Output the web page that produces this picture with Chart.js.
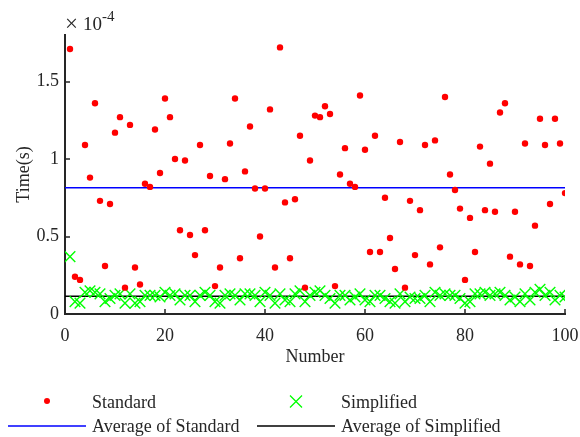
<!DOCTYPE html>
<html>
<head>
<meta charset="utf-8">
<script src="https://cdn.jsdelivr.net/npm/chart.js@4.4.1/dist/chart.umd.min.js"></script>
<style>
  html, body { margin: 0; padding: 0; background: #fff; }
  #wrap { position: relative; width: 580px; height: 437px; }
  #legend { position: absolute; left: 0; top: 0; width: 580px; height: 437px; pointer-events: none;
            font-family: "Liberation Serif", "Times New Roman", serif; font-size: 18px; color: #262626; }
  .item { position: absolute; height: 24px; line-height: 24px; white-space: nowrap; }
  .item svg { position: absolute; left: 0; top: 0; }
  .item span { position: absolute; left: 84px; top: 0; }
</style>
</head>
<body>
<div id="wrap">
  <canvas id="chart" width="580" height="437"></canvas>
  <div id="legend"></div>
</div>
<script>
const $ = id => document.getElementById(id);

// Time per run, in units of 1e-4 s (axis shows ×10^-4)
const standard = [
  1.71, 0.24, 0.22, 1.09, 0.88, 1.36, 0.73, 0.31, 0.71, 1.17,
  1.27, 0.17, 1.22, 0.30, 0.19, 0.84, 0.82, 1.19, 0.91, 1.39,
  1.27, 1.00, 0.54, 0.99, 0.51, 0.38, 1.09, 0.54, 0.89, 0.18,
  0.30, 0.87, 1.10, 1.39, 0.36, 0.92, 1.21, 0.81, 0.50, 0.81,
  1.32, 0.30, 1.72, 0.72, 0.36, 0.74, 1.15, 0.17, 0.99, 1.28,
  1.27, 1.34, 1.29, 0.18, 0.90, 1.07, 0.84, 0.82, 1.41, 1.06,
  0.40, 1.15, 0.40, 0.75, 0.49, 0.29, 1.11, 0.17, 0.73, 0.38,
  0.67, 1.09, 0.32, 1.12, 0.43, 1.40, 0.90, 0.80, 0.68, 0.22,
  0.62, 0.40, 1.08, 0.67, 0.97, 0.66, 1.30, 1.36, 0.37, 0.66,
  0.32, 1.10, 0.31, 0.57, 1.26, 1.09, 0.71, 1.26, 1.10, 0.78
];
const simplified = [
  0.37, 0.08, 0.07, 0.14, 0.15, 0.14, 0.13, 0.08, 0.10, 0.12,
  0.13, 0.07, 0.13, 0.07, 0.08, 0.12, 0.12, 0.12, 0.11, 0.14,
  0.12, 0.13, 0.09, 0.12, 0.12, 0.08, 0.12, 0.14, 0.12, 0.08,
  0.07, 0.12, 0.13, 0.12, 0.09, 0.13, 0.13, 0.12, 0.08, 0.14,
  0.12, 0.07, 0.13, 0.09, 0.08, 0.13, 0.15, 0.08, 0.12, 0.14,
  0.15, 0.12, 0.10, 0.07, 0.12, 0.12, 0.09, 0.11, 0.13, 0.09,
  0.08, 0.12, 0.12, 0.10, 0.08, 0.07, 0.13, 0.08, 0.11, 0.10,
  0.10, 0.12, 0.08, 0.14, 0.12, 0.13, 0.12, 0.12, 0.10, 0.07,
  0.08, 0.13, 0.13, 0.14, 0.12, 0.13, 0.14, 0.12, 0.09, 0.11,
  0.08, 0.13, 0.09, 0.14, 0.16, 0.12, 0.14, 0.09, 0.12, 0.11
];
const avgStandard = 0.814;
const avgSimplified = 0.115;
const xRange = [0, 100];
const xTicks = [0, 20, 40, 60, 80, 100];
const yTicks = [0, 0.5, 1, 1.5];

const AXIS = "#262626";
const FONT = { family: '"Liberation Serif", "Times New Roman", serif', size: 18 };

const pts = arr => arr.map((v, i) => ({ x: i + 1, y: v }));
const flat = v => xRange.map(x => ({ x, y: v }));

// MATLAB-like inward ticks plus the ×10^-4 exponent label
const decor = {
  id: "decor",
  afterDraw(chart) {
    const { ctx, chartArea: a, scales: { x, y } } = chart;
    ctx.save();
    ctx.strokeStyle = AXIS;
    ctx.lineWidth = 1.5;
    ctx.beginPath();
    x.ticks.forEach(t => { const p = Math.round(x.getPixelForValue(t.value)); ctx.moveTo(p, a.bottom); ctx.lineTo(p, a.bottom - 5); });
    y.ticks.forEach(t => { const p = Math.round(y.getPixelForValue(t.value)); ctx.moveTo(a.left, p); ctx.lineTo(a.left + 5, p); });
    ctx.stroke();
    ctx.fillStyle = AXIS;
    ctx.textBaseline = "alphabetic";
    ctx.font = `23px ${FONT.family}`;
    ctx.fillText("\u00d7", a.left + 0, 31);
    ctx.font = `19px ${FONT.family}`;
    ctx.fillText("10", a.left + 18, 30);
    ctx.font = `15px ${FONT.family}`;
    ctx.fillText("-4", a.left + 37, 21);
    ctx.restore();
  }
};

const chart = new Chart($("chart"), {
  type: "scatter",
  data: {
    datasets: [
      { label: "Standard", data: pts(standard), backgroundColor: "#ff0000", borderColor: "#ff0000",
        pointStyle: "circle", pointRadius: 3.2, borderWidth: 0 },
      { label: "Simplified", data: pts(simplified), borderColor: "#00ff00", backgroundColor: "#00ff00",
        pointStyle: "crossRot", pointRadius: 7.5, borderWidth: 1.4 },
      { label: "Average of Standard", type: "line", data: flat(avgStandard), borderColor: "#0000ff",
        borderWidth: 1.5, pointRadius: 0, showLine: true },
      { label: "Average of Simplified", type: "line", data: flat(avgSimplified), borderColor: "#000000",
        borderWidth: 1.5, pointRadius: 0, showLine: true }
    ]
  },
  options: {
    responsive: false,
    animation: false,
    events: [],
    layout: { padding: { top: 35, right: 15, bottom: 69, left: 0 } },
    plugins: { legend: { display: false }, tooltip: { enabled: false } },
    scales: {
      x: {
        type: "linear", min: 0, max: 100,
        grid: { display: false, drawTicks: false },
        border: { display: true, color: AXIS, width: 2 },
        afterBuildTicks: s => { s.ticks = xTicks.map(value => ({ value })); },
        ticks: { color: AXIS, font: FONT, padding: 11, maxRotation: 0 },
        title: { display: true, text: "Number", color: AXIS, font: FONT, padding: { top: 0, bottom: 0 } },
        afterFit: s => { s.height = 54; s.paddingLeft = 0; s.paddingRight = 0; }
      },
      y: {
        min: 0, max: 1.8,
        grid: { display: false, drawTicks: false },
        border: { display: true, color: AXIS, width: 2 },
        afterBuildTicks: s => { s.ticks = yTicks.map(value => ({ value })); },
        ticks: { color: AXIS, font: FONT, padding: 6, callback: v => String(+v.toFixed(2)) },
        title: { display: true, text: "Time(s)", color: AXIS, font: FONT, padding: { top: 13, bottom: 0 } },
        afterFit: s => { s.width = 65; s.paddingTop = 0; s.paddingBottom = 0; }
      }
    }
  },
  plugins: [decor]
});

// legend: 2x2 grid below the plot, built from the datasets
function renderLegend() {
  const el = $("legend");
  const slots = [[8, 390], [257, 390], [8, 414], [257, 414]];
  chart.data.datasets.forEach((ds, i) => {
    const [left, top] = slots[i];
    let mark;
    if (ds.pointStyle === "circle") mark = `<circle cx="39" cy="11" r="3" fill="${ds.backgroundColor}"/>`;
    else if (ds.pointStyle === "crossRot") mark = `<path d="M33 5.5L45 17.5M45 5.5L33 17.5" stroke="${ds.borderColor}" stroke-width="1.3"/>`;
    else mark = `<line x1="0" y1="12" x2="78" y2="12" stroke="${ds.borderColor}" stroke-width="1.5"/>`;
    const d = document.createElement("div");
    d.className = "item";
    d.style.left = left + "px";
    d.style.top = top + "px";
    d.innerHTML = `<svg width="78" height="24">${mark}</svg><span>${ds.label}</span>`;
    el.appendChild(d);
  });
}
renderLegend();
</script>
</body>
</html>
